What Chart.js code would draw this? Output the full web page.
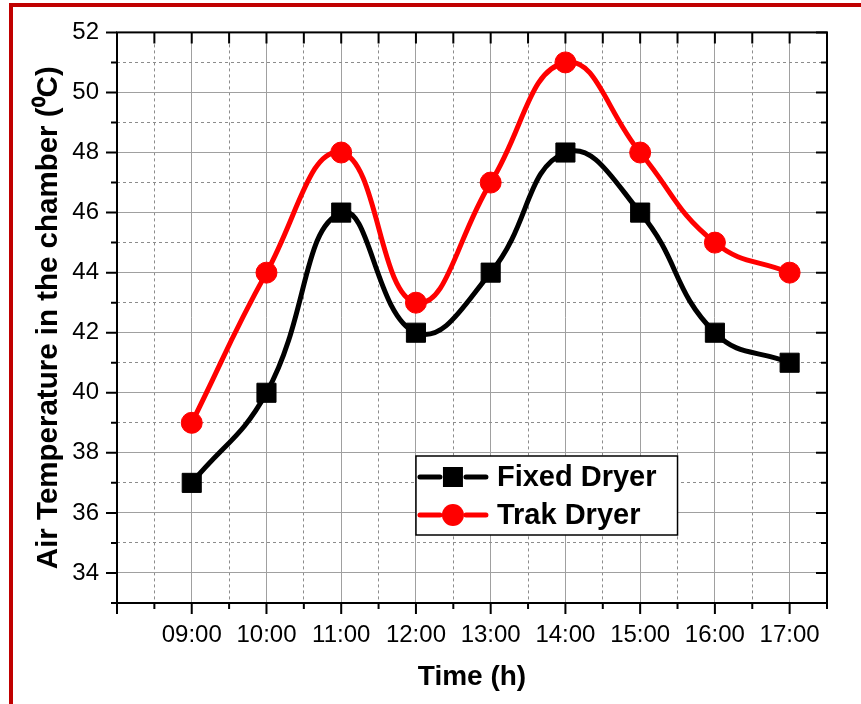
<!DOCTYPE html>
<html>
<head>
<meta charset="utf-8">
<title>Air temperature in the chamber</title>
<script src="https://cdn.jsdelivr.net/npm/chart.js@4.4.1/dist/chart.umd.min.js"></script>
<style>
  html, body { margin: 0; padding: 0; background: #fff; }
  canvas { display: block; }
</style>
</head>
<body>
<canvas id="temp" width="861" height="704"></canvas>
<script>
// hourly readings
const hours = [9, 10, 11, 12, 13, 14, 15, 16, 17];
const timeLabels = ["09:00", "10:00", "11:00", "12:00", "13:00", "14:00", "15:00", "16:00", "17:00"];
const fixedDryer = [37, 40, 46, 42, 44, 48, 46, 42, 41];
const trakDryer = [39, 44, 48, 43, 47, 51, 48, 45, 44];
const tempLabels = [34, 36, 38, 40, 42, 44, 46, 48, 50, 52];

const FONT = "Arial, 'Liberation Sans', sans-serif";

const isMinorX = (v) => !Number.isInteger(v);
const isMinorY = (v) => v % 2 !== 0;

// red page frame + axis box with major / minor ticks
const frame = {
    id: "frame",
    beforeDraw(chart) {
        const ctx = chart.ctx;
        ctx.save();
        ctx.fillStyle = "#fff";
        ctx.fillRect(0, 0, chart.width, chart.height);
        ctx.fillStyle = "#c00000";
        ctx.fillRect(9, 3, 4, chart.height - 3);
        ctx.fillRect(9, 3, chart.width - 9, 4);
        ctx.restore();
    },
    afterDatasetsDraw(chart) {
        const { ctx, chartArea: a, scales: { x, y } } = chart;
        ctx.save();
        ctx.strokeStyle = "#000";
        ctx.lineWidth = 2;
        ctx.strokeRect(a.left, a.top, a.right - a.left, a.bottom - a.top);
        ctx.beginPath();
        x.ticks.forEach((t) => {
            const px = x.getPixelForValue(t.value);
            const len = isMinorX(t.value) ? 6 : 11;
            ctx.moveTo(px, a.bottom);
            ctx.lineTo(px, a.bottom + len);
            ctx.moveTo(px, a.top);
            ctx.lineTo(px, a.top + 11);
        });
        y.ticks.forEach((t) => {
            const py = y.getPixelForValue(t.value);
            const len = isMinorY(t.value) ? 6 : 11;
            ctx.moveTo(a.left, py);
            ctx.lineTo(a.left - len, py);
            ctx.moveTo(a.right, py);
            ctx.lineTo(a.right - len, py);
        });
        ctx.stroke();
        ctx.restore();
    },
};

// boxed legend inside the plot
const legendBox = {
    id: "legendBox",
    afterDraw(chart) {
        const { ctx, scales: { x } } = chart;
        const left = x.getPixelForValue(12);
        const right = x.getPixelForValue(15.5);
        const top = 456;
        const bottom = 535;
        ctx.save();
        ctx.fillStyle = "#fff";
        ctx.fillRect(left, top, right - left, bottom - top);
        ctx.strokeStyle = "#000";
        ctx.lineWidth = 1.5;
        ctx.strokeRect(left, top, right - left, bottom - top);

        chart.data.datasets.forEach((ds, i) => {
            const cy = top + 21 + i * 38;
            const mx = left + 37;
            ctx.strokeStyle = ds.borderColor;
            ctx.fillStyle = ds.borderColor;
            ctx.lineWidth = 5;
            ctx.lineCap = "round";
            ctx.beginPath();
            ctx.moveTo(left + 4, cy);
            ctx.lineTo(mx - 13, cy);
            ctx.moveTo(mx + 13, cy);
            ctx.lineTo(left + 70, cy);
            ctx.stroke();
            ctx.beginPath();
            if (ds.pointStyle === "rect") {
                ctx.rect(mx - 10, cy - 10, 20, 20);
            } else {
                ctx.arc(mx, cy, 11, 0, Math.PI * 2);
            }
            ctx.fill();
            ctx.fillStyle = "#000";
            ctx.font = "bold 29px " + FONT;
            ctx.textBaseline = "middle";
            ctx.textAlign = "left";
            ctx.fillText(ds.label, left + 81, cy + 1);
        });
        ctx.restore();
    },
};

new Chart(document.getElementById("temp"), {
    type: "line",
    data: {
        datasets: [
            {
                label: "Fixed Dryer",
                data: hours.map((h, i) => ({ x: h, y: fixedDryer[i] })),
                borderColor: "#000000",
                backgroundColor: "#000000",
                borderWidth: 5,
                tension: 0.45,
                pointStyle: "rect",
                pointRadius: 13.5,
                pointBorderWidth: 1,
            },
            {
                label: "Trak Dryer",
                data: hours.map((h, i) => ({ x: h, y: trakDryer[i] })),
                borderColor: "#ff0000",
                backgroundColor: "#ff0000",
                borderWidth: 5,
                tension: 0.45,
                pointStyle: "circle",
                pointRadius: 10.5,
                pointBorderWidth: 1,
            },
        ],
    },
    options: {
        responsive: false,
        animation: false,
        layout: { padding: { top: 30, right: 34, left: 0, bottom: 0 } },
        plugins: {
            legend: { display: false },
            tooltip: { enabled: false },
        },
        scales: {
            x: {
                type: "linear",
                min: 8,
                max: 17.5,
                afterFit: (scale) => { scale.height = 101; },
                ticks: {
                    stepSize: 0.5,
                    autoSkip: false,
                    maxRotation: 0,
                    padding: 18,
                    color: "#000",
                    font: { family: FONT, size: 24 },
                    callback: (v) => {
                        const i = hours.indexOf(v);
                        return i >= 0 ? timeLabels[i] : "";
                    },
                },
                grid: {
                    drawTicks: false,
                    lineWidth: 1,
                    color: (c) => (c.tick && isMinorX(c.tick.value) ? "#8c8c8c" : "#a0a0a0"),
                },
                border: {
                    display: false,
                    dash: (c) => (c.tick && isMinorX(c.tick.value) ? [3, 3] : []),
                },
                title: {
                    display: true,
                    text: "Time (h)",
                    color: "#000",
                    font: { family: FONT, size: 28, weight: "bold" },
                    padding: { top: 0, bottom: 10 },
                },
            },
            y: {
                min: 33,
                max: 52,
                afterFit: (scale) => { scale.width = 117; },
                ticks: {
                    stepSize: 1,
                    autoSkip: false,
                    padding: 18,
                    color: "#000",
                    font: { family: FONT, size: 24 },
                    callback: (v) => (tempLabels.includes(v) ? String(v) : ""),
                },
                grid: {
                    drawTicks: false,
                    lineWidth: 1,
                    color: (c) => (c.tick && isMinorY(c.tick.value) ? "#8c8c8c" : "#a0a0a0"),
                },
                border: {
                    display: false,
                    dash: (c) => (c.tick && isMinorY(c.tick.value) ? [3, 3] : []),
                },
                title: {
                    display: true,
                    text: "Air Temperature in the chamber (\u2070C)",
                    color: "#000",
                    font: { family: FONT, size: 29.5, weight: "bold" },
                    padding: { top: 31, bottom: 0 },
                },
            },
        },
    },
    plugins: [frame, legendBox],
});
</script>
</body>
</html>
